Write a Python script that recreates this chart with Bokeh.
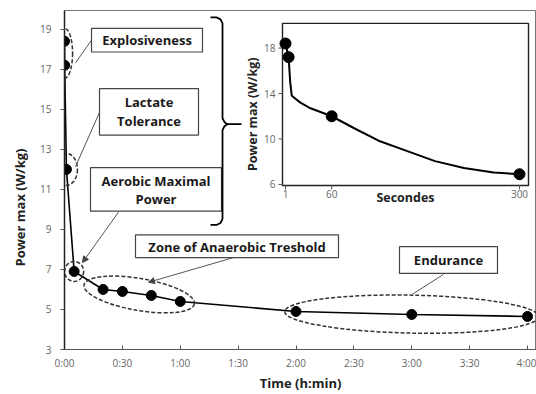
import numpy as np
from bokeh.plotting import figure
from bokeh.models import Range1d, FixedTicker, Arrow, NormalHead, Title
from bokeh.core.properties import value
from bokeh.embed import file_html
from bokeh.resources import INLINE

# ---------------- data ----------------
time_s = [1, 5, 60, 300, 1200, 1800, 2700, 3600, 7200, 10800, 14400]
power = [18.4, 17.2, 12.0, 6.9, 6.0, 5.9, 5.7, 5.4, 4.9, 4.75, 4.65]
x_tick_secs = [0, 1800, 3600, 5400, 7200, 9000, 10800, 12600, 14400]
x_tick_labels = ["0:00", "0:30", "1:00", "1:30", "2:00", "2:30", "3:00", "3:30", "4:00"]
y_ticks = [3, 5, 7, 9, 11, 13, 15, 17, 19]

zone_labels = [["Explosiveness"], ["Lactate", "Tolerance"], ["Aerobic Maximal", "Power"],
               ["Zone of Anaerobic Treshold"], ["Endurance"]]
zone_members = [[0, 1], [2], [3], [4, 5, 6, 7], [8, 9, 10]]

inset_s = [1, 5, 60, 300]
inset_power = [18.4, 17.2, 12.0, 6.9]
inset_curve_s = [1, 5, 7, 9, 20, 33, 60, 90, 120, 154, 192, 229, 267, 300]
inset_curve_power = [18.4, 17.2, 15.0, 13.8, 13.2, 12.7, 12.0, 10.9, 9.85, 9.0, 8.05, 7.45, 7.05, 6.9]
inset_x_ticks = [1, 60, 300]
inset_y_ticks = [6, 10, 14, 18]

# ---------------- layout (page pixels; figure drawn at page origin) ----------------
W, H = 536, 394
FL, FR, FT, FB = 64, 536, 10, 353          # main frame edges
sxm = (527 - 64) / 14400.0                 # px per second
sym = (353 - 29) / 16.0                    # px per W/kg


def mx(px):
    return (px - 64) / sxm


def my(py):
    return 3 + (353 - py) / sym


six = (519 - 285) / 299.0
siy = (186 - 48) / 12.0


def ix(px):
    return 1 + (px - 285) / six


def iy(py):
    return 6 + (186 - py) / siy


FONT = "Open Sans"
p = figure(width=W, height=H, output_backend="svg", toolbar_location=None,
           x_range=Range1d(0, mx(FR)), y_range=Range1d(3, my(FT)),
           min_border_left=FL, min_border_top=FT, min_border_right=0,
           min_border_bottom=H - FB)
p.extra_x_ranges = {"ix": Range1d(ix(FL), ix(FR))}
p.extra_y_ranges = {"iy": Range1d(iy(FB), iy(FT))}
p.xgrid.visible = False
p.ygrid.visible = False
p.outline_line_color = "#777777"
p.outline_line_width = 1
p.background_fill_color = "white"
p.border_fill_color = "white"

# axes
p.xaxis.ticker = FixedTicker(ticks=x_tick_secs)
p.xaxis.major_label_overrides = {t: l for t, l in zip(x_tick_secs, x_tick_labels)}
p.xaxis.minor_tick_line_color = None
p.xaxis.major_tick_in = 4
p.xaxis.major_tick_out = 0
p.xaxis.axis_line_color = "#555555"
p.xaxis.major_tick_line_color = "#555555"
p.xaxis.major_label_standoff = 6
p.xaxis.axis_label = "Time (h:min)"
p.xaxis.axis_label_standoff = 1

p.yaxis.ticker = FixedTicker(ticks=y_ticks)
p.yaxis.minor_tick_line_color = None
p.yaxis.major_tick_in = 0
p.yaxis.major_tick_out = 4
p.yaxis.axis_line_color = "#222222"
p.yaxis.axis_line_width = 1.5
p.yaxis.major_tick_line_color = "#555555"
p.yaxis.major_label_standoff = 9

for ax in (p.xaxis[0], p.yaxis[0]):
    ax.major_label_text_font = FONT
    ax.major_label_text_font_size = "10px"
    ax.major_label_text_color = "#666666"
    ax.axis_label_text_font = FONT
    ax.axis_label_text_font_size = "13px"
    ax.axis_label_text_font_style = "bold"
    ax.axis_label_text_color = "#222222"

# y axis title placed (as in the reference) below the frame centre
p.add_layout(Title(text="Power max (W/kg)", align="left", offset=83, standoff=17,
                   text_font=FONT, text_font_size="13px", text_font_style="bold",
                   text_color="#222222"), "left")

# ---------------- main curve ----------------
p.line(time_s, power, line_color="black", line_width=1.6)
p.scatter(time_s, power, size=10, fill_color="black", line_color="black")

# dashed ellipses around the zones
ell_w = [16, 22, 19, 112, 254]
ell_h = [50, 32, 20, 32, 38]
ell_a = [0.0, 0.0, 0.0, -0.17, -0.02]
cx = [float(np.mean([time_s[i] for i in g])) for g in zone_members]
cy = [float(np.mean([power[i] for i in g])) for g in zone_members]
p.ellipse(x=cx, y=cy, width=ell_w, height=ell_h, angle=ell_a,
          width_units="screen", height_units="screen",
          fill_color=None, line_color="#333333", line_width=1.5, line_dash="4 2")

# annotation boxes (page px: left, top, right, bottom)
boxes = [(91, 28, 202, 52), (99, 89, 198, 136), (90, 169, 221, 213),
         (135, 237, 338, 260), (399, 249, 497, 276)]
line_y = [[40], [103, 122], [183, 201], [249], [262]]
p.quad(left=[mx(b[0]) for b in boxes], right=[mx(b[2]) for b in boxes],
       top=[my(b[1]) for b in boxes], bottom=[my(b[3]) for b in boxes],
       fill_color="white", line_color="#444444", line_width=1.2)
tx, ty, tt = [], [], []
for b, labs, ys in zip(boxes, zone_labels, line_y):
    for lab, yy in zip(labs, ys):
        tx.append(mx((b[0] + b[2]) / 2))
        ty.append(my(yy))
        tt.append(lab)
p.text(x=tx, y=ty, text=tt, text_font=value(FONT), text_font_size="13px",
       text_font_style="bold", text_align="center", text_baseline="middle",
       text_color="#1a1a1a")

# leader lines
leaders = [((91, 40), (75, 63), False), ((99, 113), (75, 168), False),
           ((118, 214), (82, 265), True), ((233, 260), (148, 285), True),
           ((443, 277), (412, 297), False)]
for (x0, y0), (x1, y1), head in leaders:
    p.add_layout(Arrow(x_start=mx(x0), y_start=my(y0), x_end=mx(x1), y_end=my(y1),
                       line_color="#555555", line_width=1,
                       end=NormalHead(size=6, fill_color="#444444", line_color="#444444") if head else None))

# curly brace pointing to inset
brace = [(210, 17), (216, 17), (220, 19), (222, 23), (222, 119), (224, 123), (227, 125),
         (224, 127), (222, 131), (222, 221), (220, 225), (216, 227), (210, 227)]
p.line([mx(a) for a, b in brace], [my(b) for a, b in brace], line_color="black", line_width=1.8)
p.line([mx(226), mx(241)], [my(125), my(125)], line_color="black", line_width=1.8)

# ---------------- inset ----------------
kw = dict(x_range_name="ix", y_range_name="iy")
p.quad(left=[ix(282)], right=[ix(528)], top=[iy(23)], bottom=[iy(187)],
       fill_color="white", line_color="#222222", line_width=1.4, **kw)
p.segment(x0=[ix(278)] * len(inset_y_ticks), x1=[ix(282)] * len(inset_y_ticks),
          y0=inset_y_ticks, y1=inset_y_ticks, line_color="#555555", **kw)
p.text(x=[ix(275)] * len(inset_y_ticks), y=inset_y_ticks, text=[str(v) for v in inset_y_ticks],
       text_font=value(FONT), text_font_size="10px", text_color="#666666",
       text_align="right", text_baseline="middle", **kw)
p.segment(x0=inset_x_ticks, x1=inset_x_ticks, y0=[iy(187)] * 3, y1=[iy(191)] * 3,
          line_color="#555555", **kw)
p.text(x=inset_x_ticks, y=[iy(192)] * 3, text=[str(v) for v in inset_x_ticks],
       text_font=value(FONT), text_font_size="10px", text_color="#666666",
       text_align="center", text_baseline="top", **kw)
p.text(x=[ix(405)], y=[iy(191)], text=["Secondes"], text_font=value(FONT),
       text_font_size="12.5px", text_font_style="bold", text_color="#222222",
       text_align="center", text_baseline="top", **kw)
p.text(x=[ix(252)], y=[iy(115)], text=["Power max (W/kg)"], angle=np.pi / 2,
       text_font=value(FONT), text_font_size="12.5px", text_font_style="bold",
       text_color="#222222", text_align="center", text_baseline="middle", **kw)
p.line(inset_curve_s, inset_curve_power, line_color="black", line_width=2, **kw)
p.scatter(inset_s, inset_power, size=11, fill_color="black", line_color="black", **kw)

open("out.html", "w").write(file_html(p, INLINE))
